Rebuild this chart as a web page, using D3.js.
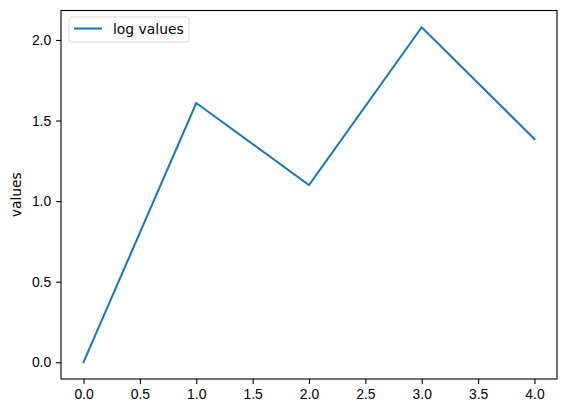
<!DOCTYPE html>
<html>
<head>
<meta charset="utf-8">
<script src="https://cdn.jsdelivr.net/npm/d3@7"></script>
<style>
  body { margin: 0; background: #fff; }
  svg { display: block; font-family: 'DejaVu Sans', sans-serif; }
  .axis text { font-size: 13.9px; fill: #000; }
  .axis path, .axis line { stroke: #000; stroke-width: 1.1px; }
</style>
</head>
<body>
<svg id="container"></svg>
<script>
// data
const xValues = [0, 1, 2, 3, 4]
const logValues = [0, 1.609, 1.099, 2.079, 1.386]
const xTicks = [0, 0.5, 1, 1.5, 2, 2.5, 3, 3.5, 4]
const yTicks = [0, 0.5, 1, 1.5, 2]
const seriesName = 'log values'
const yLabel = 'values'

const svgWidth = 567
const svgHeight = 413
const margin = { top: 10.5, right: 10, bottom: 34, left: 61 }
const w = svgWidth - margin.left - margin.right
const h = svgHeight - margin.top - margin.bottom

const svg = d3
  .select('#container')
  .attr('width', svgWidth)
  .attr('height', svgHeight)
  .append('g')
  .attr('transform', 'translate(' + margin.left + ',' + margin.top + ')')

// matplotlib-like 5% margins
const xmin = d3.min(xValues), xmax = d3.max(xValues)
const ymin = d3.min(logValues), ymax = d3.max(logValues)
const xpad = (xmax - xmin) * 0.05
const ypad = (ymax - ymin) * 0.05

const x = d3.scaleLinear().domain([xmin - xpad, xmax + xpad]).range([0, w])
const y = d3.scaleLinear().domain([ymin - ypad, ymax + ypad]).range([h, 0])

// axes
svg
  .append('g')
  .attr('class', 'axis x-axis')
  .attr('transform', `translate(0,${h})`)
  .call(
    d3.axisBottom(x).tickValues(xTicks).tickSize(4.9).tickPadding(4.9)
      .tickFormat(d3.format('.1f'))
  )
  .call(g => g.select('.domain').remove())

svg
  .append('g')
  .attr('class', 'axis y-axis')
  .call(
    d3.axisLeft(y).tickValues(yTicks).tickSize(4.9).tickPadding(4.9)
      .tickFormat(d3.format('.1f'))
  )
  .call(g => g.select('.domain').remove())

// line
const line = d3
  .line()
  .x((d, i) => x(xValues[i]))
  .y(d => y(d))

svg
  .append('path')
  .datum(logValues)
  .attr('d', line)
  .attr('fill', 'none')
  .attr('stroke', '#1f77b4')
  .attr('stroke-width', 2.08)
  .attr('stroke-linecap', 'square')

// frame
svg
  .append('rect')
  .attr('width', w)
  .attr('height', h)
  .attr('fill', 'none')
  .attr('stroke', '#000')
  .attr('stroke-width', 1.1)

// y label
svg
  .append('text')
  .attr('transform', `translate(${16 - margin.left},${h / 2}) rotate(-90)`)
  .attr('text-anchor', 'middle')
  .attr('dominant-baseline', 'central')
  .style('font-size', '13.9px')
  .text(yLabel)

// legend
const legend = svg.append('g').attr('transform', 'translate(8,6.5)')
legend
  .append('rect')
  .attr('width', 120)
  .attr('height', 25)
  .attr('rx', 2.5)
  .attr('fill', '#fff')
  .attr('fill-opacity', 0.8)
  .attr('stroke', '#d6d6d6')
  .attr('stroke-width', 1)
legend
  .append('line')
  .attr('x1', 5)
  .attr('x2', 33)
  .attr('y1', 11.5)
  .attr('y2', 11.5)
  .attr('stroke', '#1f77b4')
  .attr('stroke-width', 2.08)
legend
  .append('text')
  .attr('x', 44)
  .attr('y', 11.5)
  .attr('dominant-baseline', 'central')
  .style('font-size', '13.9px')
  .text(seriesName)
</script>
</body>
</html>
